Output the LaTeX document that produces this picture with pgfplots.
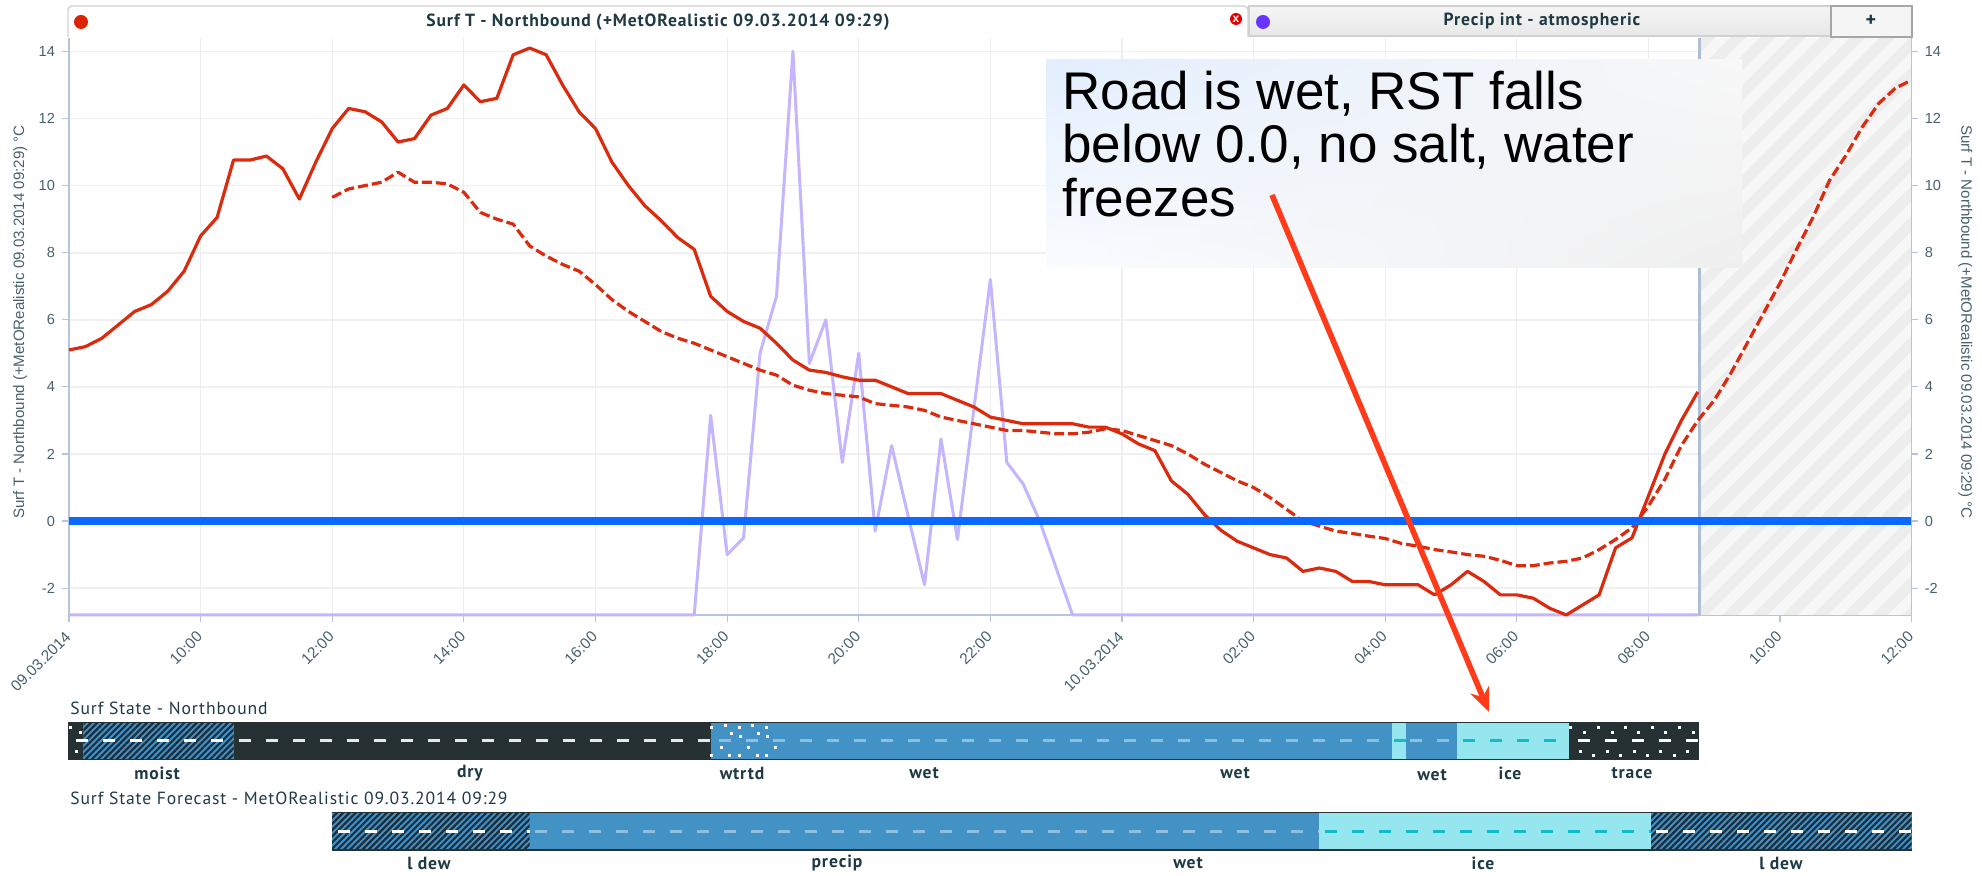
\documentclass[border=0pt]{standalone}
\usepackage{fontspec}
\usepackage{pgfplots}
\pgfplotsset{compat=1.18}
\usetikzlibrary{patterns.meta,arrows.meta,shadings}
\setmainfont{Liberation Sans}
\newfontfamily\uifont[LetterSpace=5]{PT Sans}
\definecolor{axtext}{HTML}{47616B}
\definecolor{axline}{HTML}{B5C5DE}
\definecolor{gridv}{HTML}{ECEEF2}
\definecolor{gridh}{HTML}{F0F0F0}
\definecolor{redl}{HTML}{DC2A0E}
\definecolor{purp}{HTML}{C4B5FE}
\definecolor{zerob}{HTML}{0A68FF}
\definecolor{road}{HTML}{263133}
\definecolor{wetb}{HTML}{4292C6}
\definecolor{icec}{HTML}{96E6F0}
\definecolor{hatch}{HTML}{1B2C3C}
\definecolor{dashw}{HTML}{E8E8E8}
\definecolor{dashb}{HTML}{8EC0DE}
\definecolor{dashi}{HTML}{10BCCC}
\definecolor{arrowr}{HTML}{FF3B1A}
\definecolor{bandt}{HTML}{1F3A44}
\definecolor{dotred}{HTML}{DD2200}
\definecolor{dotpur}{HTML}{6633FF}
\definecolor{boxul}{HTML}{E2EEFD}
\definecolor{boxll}{HTML}{FAFCFF}
\definecolor{boxur}{HTML}{F8F8F8}
\definecolor{boxlr}{HTML}{EFEFEF}
\pgfplotsset{
  band/.style={
    scale only axis, width=921.35pt, xmin=0, xmax=28, ymin=0, ymax=1,
    hide axis, clip=false},
  rdash/.style={line width=1.4pt, dash pattern=on 6pt off 7.5pt},
  seg/.style={fill=#1, draw=none, forget plot},
  hatched/.style={draw=none, forget plot, pattern={Lines[angle=45,distance=2.2pt,line width=1.1pt]}, pattern color=hatch},
  dots/.style={only marks, mark=square*, mark size=0.5pt, mark options={draw=#1, fill=#1, line width=0pt}, forget plot},
}
\begin{document}
\begin{tikzpicture}
\useasboundingbox (0,0) rectangle (991pt,438pt);
% main chart
\begin{axis}[
  at={(34.5pt,130.5pt)}, anchor=south west,
  scale only axis, width=921.35pt, height=288.5pt,
  xmin=0, xmax=28, ymin=-2.8, ymax=14.4,
  clip=false,
  axis y line=left, axis x line=bottom,
  axis line style={-, draw=axline, line width=0.7pt},
  xtick={0,2,...,28},
  xticklabels={09.03.2014,10:00,12:00,14:00,16:00,18:00,20:00,22:00,10.03.2014,02:00,04:00,06:00,08:00,10:00,12:00},
  ytick={-2,0,...,14},
  /pgf/number format/assume math mode=true,
  tick align=outside, major tick length=3.5pt,
  tick style={draw=axline, line width=0.6pt},
  grid=major,
  x grid style={draw=gridv, line width=0.6pt},
  y grid style={draw=gridh, line width=0.9pt},
  ticklabel style={font=\fontsize{7.3}{8}\selectfont, text=axtext},
  xticklabel style={font=\fontsize{7.7}{8}\selectfont, rotate=45, anchor=north east, inner sep=1pt, xshift=-3.5pt},
  ylabel={Surf T - Northbound (+MetORealistic 09.03.2014 09:29) °C},
  every axis y label/.style={at={(axis description cs:-0.0265,0.508)}, rotate=90, anchor=center, font=\fontsize{7.55}{8}\selectfont, text=axtext},
]
% forecast region
\addplot[fill=black!3, draw=none, forget plot] coordinates {(24.77,-2.8)(28,-2.8)(28,14.4)(24.77,14.4)} --cycle;
\addplot[draw=none, forget plot, pattern={Lines[angle=45,distance=10.6pt,line width=5.3pt]}, pattern color=black!7] coordinates {(24.77,-2.8)(28,-2.8)(28,14.4)(24.77,14.4)} --cycle;
\addplot[draw=axline!90!gray, line width=1.5pt, forget plot] coordinates {(24.77,-2.8)(24.77,14.4)};
% precip intensity
\addplot[purp, line width=1.5pt, line join=round] coordinates {
(0,-2.8)(9.5,-2.8)(9.75,3.15)(10,-1.0)(10.25,-0.5)(10.5,5.0)(10.75,6.7)(11,14.0)(11.25,4.7)(11.5,6.0)
(11.75,1.75)(12,5.0)(12.25,-0.3)(12.5,2.25)(12.75,0.15)(13,-1.9)(13.25,2.45)(13.5,-0.55)(13.75,3.35)(14,7.2)
(14.25,1.75)(14.5,1.1)(14.75,0.0)(15,-1.4)(15.25,-2.8)(24.75,-2.8)};
% observed surface temperature
\addplot[redl, line width=1.6pt, line join=round] coordinates {
(0,5.1)(0.25,5.2)(0.5,5.45)(0.75,5.85)(1,6.25)(1.25,6.45)(1.5,6.85)(1.75,7.45)(2,8.5)(2.25,9.05)(2.5,10.76)(2.75,10.76)
(3,10.88)(3.25,10.5)(3.5,9.6)(3.75,10.7)(4,11.7)(4.25,12.3)(4.5,12.2)(4.75,11.9)(5,11.3)(5.25,11.4)(5.5,12.1)(5.75,12.3)
(6,13.0)(6.25,12.5)(6.5,12.6)(6.75,13.9)(7,14.1)(7.25,13.9)(7.5,13.0)(7.75,12.2)(8,11.7)(8.25,10.7)(8.5,10.0)(8.75,9.4)
(9,8.95)(9.25,8.45)(9.5,8.1)(9.75,6.7)(10,6.25)(10.25,5.95)(10.5,5.75)(10.75,5.3)(11,4.8)(11.25,4.5)(11.5,4.43)(11.75,4.3)
(12,4.2)(12.25,4.2)(12.5,4.0)(12.75,3.8)(13,3.8)(13.25,3.8)(13.5,3.6)(13.75,3.4)(14,3.1)(14.25,3.0)(14.5,2.9)(14.75,2.9)
(15,2.9)(15.25,2.9)(15.5,2.8)(15.75,2.8)(16,2.6)(16.25,2.3)(16.5,2.1)(16.75,1.2)(17,0.8)(17.25,0.2)(17.5,-0.27)(17.75,-0.6)
(18,-0.8)(18.25,-1.0)(18.5,-1.1)(18.75,-1.5)(19,-1.4)(19.25,-1.5)(19.5,-1.8)(19.75,-1.8)(20,-1.9)(20.25,-1.9)(20.5,-1.9)
(20.75,-2.2)(21,-1.9)(21.25,-1.5)(21.5,-1.8)(21.75,-2.2)(22,-2.2)(22.25,-2.3)(22.5,-2.6)(22.75,-2.8)(23,-2.5)(23.25,-2.2)
(23.5,-0.8)(23.75,-0.5)(24,0.75)(24.25,2.0)(24.5,3.0)(24.75,3.85)};
% forecast surface temperature
\addplot[redl, line width=1.6pt, line join=round, dash pattern=on 5pt off 2pt] coordinates {
(4,9.65)(4.25,9.9)(4.5,10.0)(4.75,10.1)(5,10.4)(5.25,10.1)(5.5,10.1)(5.75,10.05)(6,9.8)(6.25,9.2)(6.5,9.0)(6.75,8.85)
(7,8.2)(7.25,7.9)(7.5,7.65)(7.75,7.45)(8,7.05)(8.25,6.6)(8.5,6.25)(8.75,5.95)(9,5.65)(9.25,5.45)(9.5,5.3)(9.75,5.1)
(10,4.9)(10.25,4.7)(10.5,4.5)(10.75,4.35)(11,4.05)(11.25,3.9)(11.5,3.8)(11.75,3.75)(12,3.7)(12.25,3.5)(12.5,3.45)(12.75,3.4)
(13,3.3)(13.25,3.1)(13.5,3.0)(13.75,2.9)(14,2.8)(14.25,2.7)(14.5,2.7)(14.75,2.65)(15,2.6)(15.25,2.6)(15.5,2.65)(15.75,2.75)
(16,2.7)(16.25,2.55)(16.5,2.4)(16.75,2.25)(17,2.0)(17.25,1.7)(17.5,1.45)(17.75,1.2)(18,1.0)(18.25,0.7)(18.5,0.35)(18.75,0)
(19,-0.15)(19.25,-0.3)(19.5,-0.37)(19.75,-0.45)(20,-0.52)(20.25,-0.67)(20.5,-0.75)(20.75,-0.85)(21,-0.92)(21.25,-1.0)
(21.5,-1.05)(21.75,-1.17)(22,-1.33)(22.25,-1.33)(22.5,-1.25)(22.75,-1.2)(23,-1.1)(23.25,-0.85)(23.5,-0.55)(23.75,-0.2)
(24,0.45)(24.25,1.25)(24.5,2.25)(24.75,3.0)(25,3.6)(25.25,4.4)(25.5,5.3)(25.75,6.2)(26,7.1)(26.25,8.1)(26.5,9.05)
(26.75,10.15)(27,10.9)(27.25,11.75)(27.5,12.45)(27.75,12.9)(27.95,13.1)};
% zero line
\addplot[zerob, line width=4pt, line cap=butt] coordinates {(0,0)(28,0)};
\end{axis}
% right hand y axis
\begin{axis}[
  at={(34.5pt,130.5pt)}, anchor=south west,
  scale only axis, width=921.35pt, height=288.5pt,
  xmin=0, xmax=28, ymin=-2.8, ymax=14.4,
  axis y line=right, axis x line=none,
  axis line style={-, draw=axline, line width=0.7pt},
  ytick={-2,0,...,14},
  /pgf/number format/assume math mode=true,
  tick align=outside, major tick length=3pt,
  tick style={draw=axline, line width=0.6pt},
  ticklabel style={font=\fontsize{7.3}{8}\selectfont, text=axtext},
  ylabel={Surf T - Northbound (+MetORealistic 09.03.2014 09:29) °C},
  every axis y label/.style={at={(axis description cs:1.029,0.508)}, rotate=-90, anchor=center, font=\fontsize{7.55}{8}\selectfont, text=axtext},
]
\end{axis}
% observed surface state
\begin{axis}[band, at={(34.5pt,58.35pt)}, anchor=south west, height=18.5pt]
\addplot[seg=road] coordinates {(-0.02,0)(0.22,0)(0.22,1)(-0.02,1)} --cycle;
\addplot[seg=wetb] coordinates {(0.22,0)(2.5,0)(2.5,1)(0.22,1)} --cycle;
\addplot[hatched] coordinates {(0.22,0)(2.5,0)(2.5,1)(0.22,1)} --cycle;
\addplot[seg=road] coordinates {(2.5,0)(9.75,0)(9.75,1)(2.5,1)} --cycle;
\addplot[seg=wetb] coordinates {(9.75,0)(20.1,0)(20.1,1)(9.75,1)} --cycle;
\addplot[seg=icec] coordinates {(20.1,0)(20.31,0)(20.31,1)(20.1,1)} --cycle;
\addplot[seg=wetb] coordinates {(20.31,0)(21.09,0)(21.09,1)(20.31,1)} --cycle;
\addplot[seg=icec] coordinates {(21.09,0)(22.8,0)(22.8,1)(21.09,1)} --cycle;
\addplot[seg=road] coordinates {(22.8,0)(24.77,0)(24.77,1)(22.8,1)} --cycle;
\addplot[white, rdash, forget plot] coordinates {(0.1,0.5)(2.5,0.5)};
\addplot[dashw, rdash, forget plot] coordinates {(2.58,0.5)(9.75,0.5)};
\addplot[dashb, rdash, forget plot] coordinates {(9.87,0.5)(20.1,0.5)};
\addplot[dashi, rdash, forget plot] coordinates {(20.14,0.5)(20.31,0.5)};
\addplot[dashb, rdash, forget plot] coordinates {(20.38,0.5)(21.09,0.5)};
\addplot[dashi, rdash, forget plot] coordinates {(21.18,0.5)(22.8,0.5)};
\addplot[white, rdash, forget plot] coordinates {(22.93,0.5)(24.75,0.5)};
\addplot[dots=white] coordinates {(0.02,0.86)(0.18,0.73)(0.12,0.21)};
\addplot[dots=white] coordinates {
(9.77,0.86)(10.19,0.86)(10.6,0.86)(9.98,0.9)(10.39,0.9)(10.07,0.7)(10.48,0.7)(10.21,0.61)(10.62,0.61)
(9.91,0.32)(10.32,0.32)(10.74,0.32)(9.77,0.11)(10.19,0.11)(10.6,0.11)(10.04,0.11)(10.46,0.11)};
\addplot[dots=white] coordinates {
(22.82,0.86)(23.24,0.86)(23.65,0.86)(24.06,0.86)(24.47,0.86)
(23.03,0.73)(23.45,0.73)(23.85,0.73)(24.26,0.73)(24.68,0.73)
(22.96,0.21)(23.38,0.21)(23.79,0.21)(24.19,0.21)(24.6,0.21)
(23.17,0.11)(23.58,0.11)(23.99,0.11)(24.4,0.11)};
\addplot[road, line width=0.7pt, forget plot] coordinates {(-0.02,1)(24.77,1)};
\addplot[road, line width=0.7pt, forget plot] coordinates {(-0.02,0)(24.77,0)};
\end{axis}
% forecast surface state
\begin{axis}[band, at={(34.5pt,13pt)}, anchor=south west, height=18.85pt]
\addplot[seg=wetb] coordinates {(4,0)(7,0)(7,1)(4,1)} --cycle;
\addplot[hatched] coordinates {(4,0)(7,0)(7,1)(4,1)} --cycle;
\addplot[seg=wetb] coordinates {(7,0)(19,0)(19,1)(7,1)} --cycle;
\addplot[seg=icec] coordinates {(19,0)(24.04,0)(24.04,1)(19,1)} --cycle;
\addplot[seg=wetb] coordinates {(24.04,0)(28,0)(28,1)(24.04,1)} --cycle;
\addplot[hatched] coordinates {(24.04,0)(28,0)(28,1)(24.04,1)} --cycle;
\addplot[white, rdash, forget plot] coordinates {(4.08,0.5)(7,0.5)};
\addplot[dashb, rdash, forget plot] coordinates {(7.08,0.5)(19,0.5)};
\addplot[dashi, rdash, forget plot] coordinates {(19.08,0.5)(24.04,0.5)};
\addplot[white, rdash, forget plot] coordinates {(24.12,0.5)(28,0.5)};
\addplot[road, line width=0.7pt, forget plot] coordinates {(4,1)(28,1)};
\addplot[road, line width=0.7pt, forget plot] coordinates {(4,0)(28,0)};
\end{axis}
% page furniture, in pixels of the reference
\begin{scope}[x=0.5pt,y=-0.5pt,shift={(0pt,438pt)}]
  % tabs
  \draw[draw=black!18, fill=white, line width=0.7pt, rounded corners=2pt] (68,37) -- (68,6) -- (1248,6) -- (1248,37);
  \shade[top color=black!4, bottom color=black!9] (1249,6) rectangle (1831,36);
  \draw[draw=black!18, line width=0.7pt] (1249,37) -- (1249,6) -- (1831,6) -- (1831,36) -- (1249,36);
  \draw[draw=black!35, fill=black!4, line width=0.7pt] (1831,6) rectangle (1912,37);
  \fill[dotred] (81,22) circle[radius=7];
  \fill[red!90!black] (1236,19) circle[radius=6];
  \node[white, font=\fontsize{6}{6}\selectfont\bfseries] at (1236,19) {x};
  \fill[dotpur] (1263,22) circle[radius=7];
  \node[font=\uifont\fontsize{8.8}{9}\selectfont\bfseries, text=bandt] at (658,22) {Surf T - Northbound (+MetORealistic 09.03.2014 09:29)};
  \node[font=\uifont\fontsize{8.8}{9}\selectfont\bfseries, text=bandt] at (1542,21) {Precip int - atmospheric};
  \node[font=\uifont\fontsize{10}{10}\selectfont\bfseries, text=bandt] at (1871,21) {+};
  % state titles
  \node[anchor=west, inner sep=0pt, font=\uifont\fontsize{8.8}{9}\selectfont, text=bandt] at (70,708) {Surf State - Northbound};
  \node[anchor=west, inner sep=0pt, font=\uifont\fontsize{8.8}{9}\selectfont, text=bandt] at (70,798) {Surf State Forecast - MetORealistic 09.03.2014 09:29};
  % state labels
  \foreach \x/\t in {157/moist,470/dry,742/wtrtd,924/wet,1235/wet,1510/ice,1632/trace}
    \node[font=\uifont\fontsize{8.8}{9}\selectfont\bfseries, text=bandt] at (\x,773) {\t};
  \node[font=\uifont\fontsize{8.8}{9}\selectfont\bfseries, text=bandt] at (1432,775) {wet};
  \foreach \x/\t in {429/l dew,837/precip,1188/wet,1483/ice,1781/l dew}
    \node[font=\uifont\fontsize{8.8}{9}\selectfont\bfseries, text=bandt] at (\x,863) {\t};
  % callout
  \shade[shading=bilinear interpolation, upper left=boxul, upper right=boxur, lower left=boxll, lower right=boxlr] (1046,60) rectangle (1742,268);
  \node[anchor=base west, inner sep=0pt, font=\fontsize{26.5}{26.5}\selectfont] at (1062,110) {Road is wet, RST falls};
  \node[anchor=base west, inner sep=0pt, font=\fontsize{26.5}{26.5}\selectfont] at (1062,163) {below 0.0, no salt, water};
  \node[anchor=base west, inner sep=0pt, font=\fontsize{26.5}{26.5}\selectfont] at (1062,217) {freezes};
  \draw[arrowr, line width=2.8pt, -{Stealth[length=12pt,width=10pt]}] (1272,195) -- (1489,712);
\end{scope}
\end{tikzpicture}
\end{document}
